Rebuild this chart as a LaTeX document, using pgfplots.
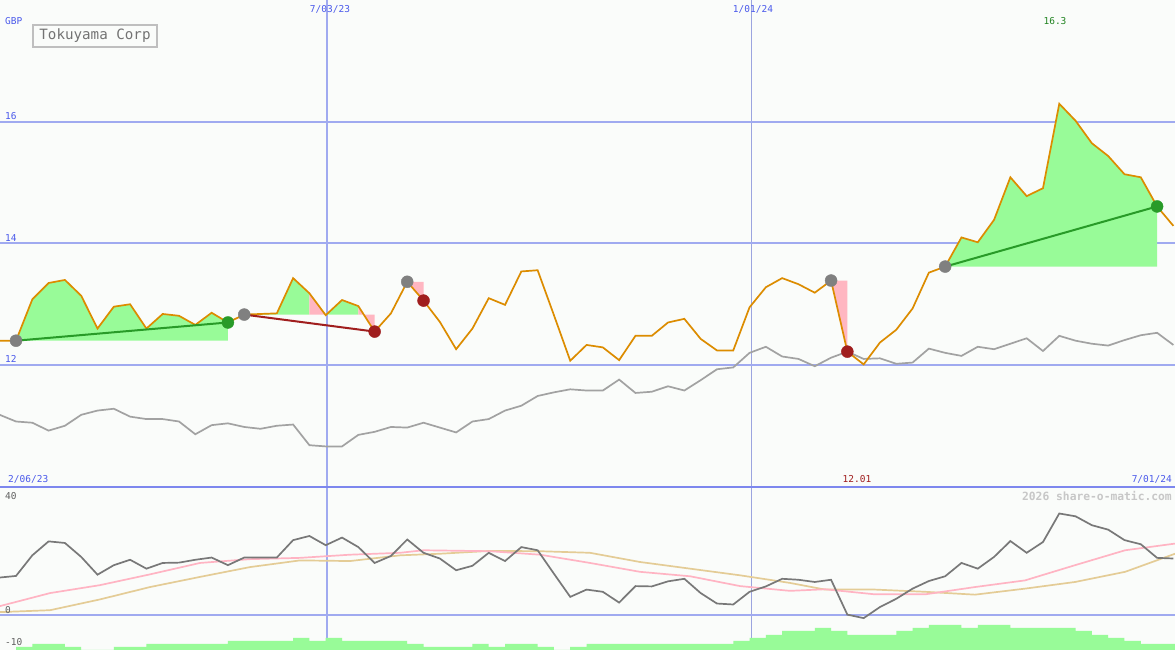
\documentclass[border=0pt]{standalone}
\usepackage{pgfplots}
\pgfplotsset{compat=1.18}
\usepackage{fontspec}
\newfontfamily\pix{DejaVu Sans Mono}

\definecolor{bg}{RGB}{250,252,250}
\definecolor{gridblue}{RGB}{160,170,240}
\definecolor{sepblue}{RGB}{125,135,238}
\definecolor{datecol}{RGB}{75,90,235}
\definecolor{price}{RGB}{220,140,0}
\definecolor{bench}{RGB}{162,162,162}
\definecolor{gainfill}{RGB}{152,251,152}
\definecolor{lossfill}{RGB}{255,182,193}
\definecolor{gainline}{RGB}{40,155,40}
\definecolor{lossline}{RGB}{160,30,30}
\definecolor{entry}{RGB}{128,128,128}
\definecolor{mom}{RGB}{120,120,120}
\definecolor{mapink}{RGB}{255,180,195}
\definecolor{matan}{RGB}{228,204,150}

\begin{document}
\begin{tikzpicture}[x=1pt,y=1pt]
\fill[bg] (0,0) rectangle (1175,650);
\useasboundingbox (0,0) rectangle (1175,650);

% date lines run through both panels
\draw[gridblue, line width=2pt] (327,0) -- (327,650);
\draw[gridblue!85!gray, line width=1pt] (751,0) -- (751,650);

% ---------- price panel ----------
\begin{axis}[
  at={(0pt,163pt)}, anchor=south west, scale only axis,
  width=1175pt, height=487pt,
  xmin=-0.982, xmax=71.1, ymin=9.992, ymax=18.008,
  axis line style={draw=none}, xtick=\empty,
  ytick={12,14,16}, yticklabels={}, major tick length=0pt,
  ymajorgrids, major grid style={gridblue, line width=2pt},
]
% trade shading
\addplot[fill=gainfill, draw=none] coordinates {(0,12.40) (1,13.08) (2,13.35) (3,13.40) (4,13.14) (5,12.60) (6,12.96) (7,13.00) (8,12.60) (9,12.84) (10,12.81) (11,12.66) (12,12.86) (13,12.70) (13,12.40)} --cycle;
\addplot[fill=gainfill, draw=none] coordinates {(14,12.83) (15,12.84) (16,12.85) (17,13.43) (18,13.18) (18,12.83)} --cycle;
\addplot[fill=lossfill, draw=none] coordinates {(18,12.83) (18,13.18) (19,12.82) (19,12.83)} --cycle;
\addplot[fill=gainfill, draw=none] coordinates {(19,12.83) (19,12.82) (20,13.07) (21,12.97) (21,12.83)} --cycle;
\addplot[fill=lossfill, draw=none] coordinates {(21,12.83) (21,12.97) (22,12.55) (22,12.83)} --cycle;
\addplot[fill=lossfill, draw=none] coordinates {(24,13.37) (25,13.06) (25,13.37)} --cycle;
\addplot[fill=lossfill, draw=none] coordinates {(50,13.39) (51,12.22) (51,13.39)} --cycle;
\addplot[fill=gainfill, draw=none] coordinates {(57,13.62) (58,14.10) (59,14.02) (60,14.39) (61,15.09) (62,14.78) (63,14.91) (64,16.30) (65,16.02) (66,15.65) (67,15.44) (68,15.14) (69,15.09) (70,14.61) (70,13.62)} --cycle;

% benchmark
\addplot[bench, line width=1.7pt] coordinates {
(-1,11.18) (0,11.07) (1,11.05) (2,10.92) (3,11.00) (4,11.18) (5,11.25) (6,11.28) (7,11.15) (8,11.11)
(9,11.11) (10,11.07) (11,10.86) (12,11.01) (13,11.04) (14,10.98) (15,10.95) (16,11.00) (17,11.02) (18,10.68)
(19,10.66) (20,10.66) (21,10.85) (22,10.90) (23,10.98) (24,10.97) (25,11.05) (26,10.97) (27,10.89) (28,11.07)
(29,11.11) (30,11.25) (31,11.33) (32,11.49) (33,11.55) (34,11.60) (35,11.58) (36,11.58) (37,11.76) (38,11.54)
(39,11.56) (40,11.65) (41,11.58) (42,11.75) (43,11.93) (44,11.96) (45,12.20) (46,12.30) (47,12.14) (48,12.10)
(49,11.98) (50,12.12) (51,12.22) (52,12.10) (53,12.11) (54,12.02) (55,12.04) (56,12.27) (57,12.20) (58,12.15)
(59,12.30) (60,12.26) (61,12.35) (62,12.44) (63,12.23) (64,12.48) (65,12.40) (66,12.35) (67,12.32) (68,12.41)
(69,12.49) (70,12.53) (71,12.33)};

% price
\addplot[price, line width=1.7pt] coordinates {
(-1,12.40) (0,12.40) (1,13.08) (2,13.35) (3,13.40) (4,13.14) (5,12.60) (6,12.96) (7,13.00) (8,12.60)
(9,12.84) (10,12.81) (11,12.66) (12,12.86) (13,12.70) (14,12.83) (15,12.84) (16,12.85) (17,13.43) (18,13.18)
(19,12.82) (20,13.07) (21,12.97) (22,12.55) (23,12.85) (24,13.37) (25,13.06) (26,12.71) (27,12.26) (28,12.60)
(29,13.10) (30,12.99) (31,13.54) (32,13.56) (33,12.82) (34,12.07) (35,12.33) (36,12.29) (37,12.08) (38,12.48)
(39,12.48) (40,12.70) (41,12.76) (42,12.43) (43,12.24) (44,12.24) (45,12.95) (46,13.28) (47,13.43) (48,13.33)
(49,13.19) (50,13.39) (51,12.22) (52,12.01) (53,12.37) (54,12.58) (55,12.93) (56,13.52) (57,13.62) (58,14.10)
(59,14.02) (60,14.39) (61,15.09) (62,14.78) (63,14.91) (64,16.30) (65,16.02) (66,15.65) (67,15.44) (68,15.14)
(69,15.09) (70,14.61) (71,14.29)};

% trade lines
\addplot[gainline, line width=2pt] coordinates {(0,12.40) (13,12.70)};
\addplot[lossline, line width=2pt] coordinates {(14,12.83) (22,12.55)};
\addplot[gainline, line width=2pt] coordinates {(57,13.62) (70,14.61)};

% trade markers
\addplot[only marks, mark=*, mark size=6pt, mark options={fill=entry, draw=entry}] coordinates {(0,12.40) (14,12.83) (24,13.37) (50,13.39) (57,13.62)};
\addplot[only marks, mark=*, mark size=6pt, mark options={fill=gainline, draw=gainline}] coordinates {(13,12.70) (70,14.61)};
\addplot[only marks, mark=*, mark size=6pt, mark options={fill=lossline, draw=lossline}] coordinates {(22,12.55) (25,13.06) (51,12.22)};
\end{axis}

% ---------- indicator panel ----------
\begin{axis}[
  at={(0pt,0pt)}, anchor=south west, scale only axis,
  width=1175pt, height=163pt,
  xmin=-0.982, xmax=71.1, ymin=-10.95, ymax=40.45,
  axis line style={draw=none}, xtick=\empty,
  ytick={0}, yticklabels={}, major tick length=0pt,
  ymajorgrids, major grid style={gridblue, line width=2pt},
]
\addplot[matan, line width=1.7pt] coordinates {
(-0.98,1.0) (2.09,1.6) (5.15,5.0) (8.22,8.9) (11.29,12.1) (14.36,15.2) (17.42,17.3) (20.49,17.1) (23.56,18.9)
(26.0,19.4) (29.08,20.3) (32.15,20.2) (35.21,19.7) (38.28,16.8) (41.35,14.7) (44.42,12.6) (47.48,10.2)
(49.63,8.1) (52.70,8.1) (55.77,7.4) (58.83,6.5) (61.90,8.4) (64.97,10.5) (68.04,13.7) (71.10,19.4)};
\addplot[mapink, line width=1.7pt] coordinates {
(-0.98,2.9) (2.09,7.0) (5.15,9.5) (8.22,12.9) (11.29,16.5) (14.36,17.7) (17.42,18.1) (20.49,19.1) (23.56,19.7)
(24.99,20.5) (29.08,20.2) (32.15,19.1) (35.21,16.5) (38.28,13.7) (41.35,12.3) (44.42,9.2) (47.48,7.7)
(49.63,8.2) (52.70,6.6) (55.77,6.6) (58.83,8.9) (61.90,11.0) (64.97,15.8) (68.04,20.5) (71.10,22.6)};
\addplot[mom, line width=1.7pt] coordinates {
(-1,11.9) (0,12.4) (1,18.9) (2,23.3) (3,22.8) (4,18.4) (5,12.8) (6,15.8) (7,17.5) (8,14.7)
(9,16.5) (10,16.6) (11,17.5) (12,18.2) (13,15.8) (14,18.2) (15,18.2) (16,18.2) (17,23.7) (18,25.0)
(19,22.1) (20,24.5) (21,21.5) (22,16.5) (23,18.7) (24,23.9) (25,19.7) (26,17.9) (27,14.2) (28,15.6)
(29,19.7) (30,17.1) (31,21.5) (32,20.5) (33,13.1) (34,5.8) (35,8.1) (36,7.4) (37,4.0) (38,9.2)
(39,9.1) (40,10.7) (41,11.5) (42,7.0) (43,3.7) (44,3.4) (45,7.4) (46,9.1) (47,11.5) (48,11.2)
(49,10.5) (50,11.2) (51,0.2) (52,-0.9) (53,2.6) (54,5.2) (55,8.4) (56,10.8) (57,12.3) (58,16.5)
(59,14.7) (60,18.4) (61,23.4) (62,19.7) (63,23.1) (64,32.1) (65,31.2) (66,28.4) (67,27.0) (68,23.7)
(69,22.4) (70,18.1) (71,17.9)};
\end{axis}

% ---------- volume bars (pixel heights) ----------
\begin{axis}[
  at={(0pt,0pt)}, anchor=south west, scale only axis,
  width=1175pt, height=163pt,
  xmin=-0.982, xmax=71.1, ymin=0, ymax=163, hide axis,
]
\addplot[const plot, fill=gainfill, draw=none] coordinates {
(0,3) (1,6) (2,6) (3,3) (4,0) (5,0) (6,3) (7,3) (8,6) (9,6) (10,6) (11,6) (12,6)
(13,9) (14,9) (15,9) (16,9) (17,12) (18,9) (19,12) (20,9) (21,9) (22,9) (23,9)
(24,6) (25,3) (26,3) (27,3) (28,6) (29,3) (30,6) (31,6) (32,3) (33,0) (34,3)
(35,6) (36,6) (37,6) (38,6) (39,6) (40,6) (41,6) (42,6) (43,6) (44,9) (45,12) (46,15)
(47,19) (48,19) (49,22) (50,19) (51,15) (52,15) (53,15) (54,19) (55,22) (56,25) (57,25)
(58,22) (59,25) (60,25) (61,22) (62,22) (63,22) (64,22) (65,19) (66,15) (67,12) (68,9)
(69,6) (70,6) (71,6) (71.2,6)} \closedcycle;
\end{axis}

\draw[sepblue, line width=1.5pt] (0,163) -- (1175,163);

% ---------- texts ----------
\begin{scope}[every node/.style={inner sep=0pt, font=\pix\fontsize{9.5}{10}\selectfont}]
\node[datecol, anchor=west] at (5,629) {GBP};
\node[datecol, anchor=west] at (5,534) {16};
\node[datecol, anchor=west] at (5,412) {14};
\node[datecol, anchor=west] at (5,291) {12};
\node[datecol] at (330,641) {7/03/23};
\node[datecol] at (753,641) {1/01/24};
\node[datecol, anchor=west] at (8,171) {2/06/23};
\node[datecol, anchor=east] at (1172,171) {7/01/24};
\node[gainline!85!black] at (1055,629) {16.3};
\node[lossline] at (857,171) {12.01};
\node[mom!80!black, anchor=west] at (5,154) {40};
\node[mom!80!black, anchor=west] at (5,40) {0};
\node[mom!80!black, anchor=west] at (5,8) {-10};
\end{scope}
\node[anchor=east, inner sep=0pt, text=black!22, font=\pix\bfseries\fontsize{11.3}{12}\selectfont] at (1172,154) {2026 share-o-matic.com};
\node[draw=black!25, line width=1.6pt, fill=bg, text=black!55, minimum width=124pt, minimum height=22pt, inner sep=0pt, font=\pix\fontsize{14.2}{15}\selectfont] at (95,614) {Tokuyama Corp};
\end{tikzpicture}
\end{document}
